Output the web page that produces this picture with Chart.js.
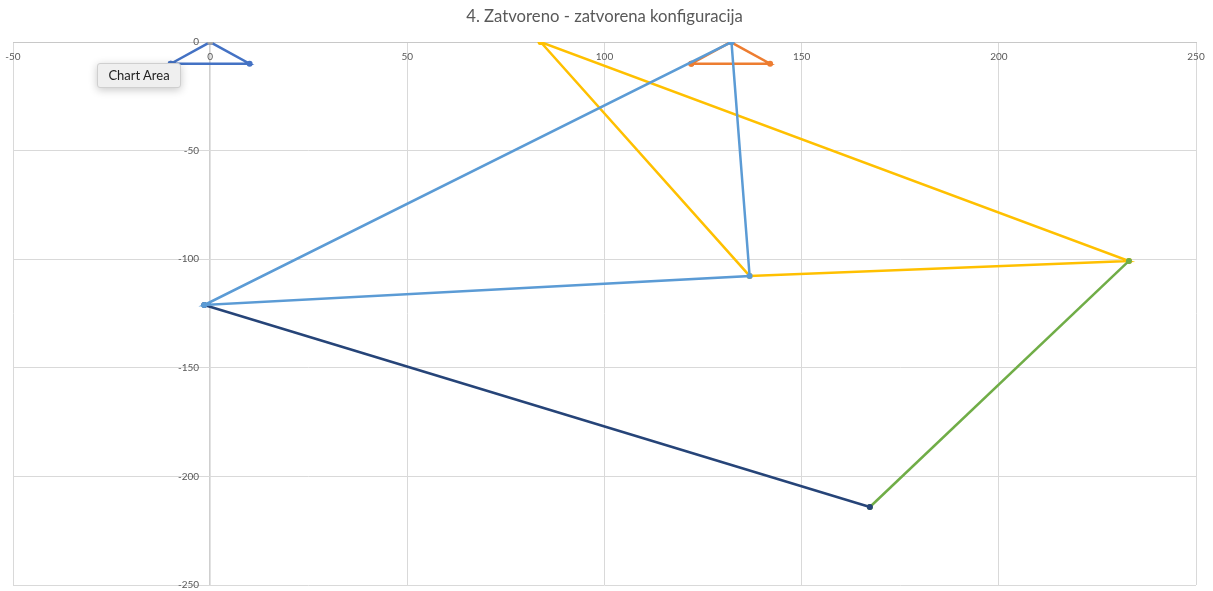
<!DOCTYPE html>
<html>
<head>
<meta charset="utf-8">
<script src="https://cdn.jsdelivr.net/npm/chart.js@4/dist/chart.umd.min.js"></script>
<style>
  html, body { margin: 0; padding: 0; background: #fff; }
  #wrap { position: relative; width: 1213px; height: 591px; }
  #tip {
    position: absolute; left: 97px; top: 63px; width: 82px; height: 23px;
    background: #efefef; border: 1px solid #cfcfcf; border-radius: 3px;
    box-shadow: 0 2px 8px rgba(0,0,0,0.22);
    font-family: "Lato", "Open Sans", sans-serif; font-size: 13px; color: #222;
    line-height: 23px; text-align: center;
  }
</style>
</head>
<body>
<div id="wrap">
  <canvas id="c" width="1213" height="591"></canvas>
  <div id="tip">Chart Area</div>
</div>
<script>
// ---- data ----
const titleText = "4. Zatvoreno - zatvorena konfiguracija";

const xTicks = [-50, 0, 50, 100, 150, 200, 250];
const yTicks = [-250, -200, -150, -100, -50, 0];

const supportAX = [-10, 0, 10, -10];
const supportAY = [-10, 0, -10, -10];

const supportBX = [122, 132, 142, 122];
const supportBY = [-10, 0, -10, -10];

const originX = [0];
const originY = [0];

const goldX = [83.8, 136.8, 233.0, 83.8];
const goldY = [0, -107.7, -100.8, 0];

const lightBlueX = [132.2, 136.8, -1.5, 132.2];
const lightBlueY = [0, -107.7, -121.1, 0];

const greenX = [233.0, 167.3];
const greenY = [-100.8, -214.1];

const navyX = [167.3, -1.5];
const navyY = [-214.1, -121.1];

const seriesColors = ["#4472C4", "#ED7D31", "#A5A5A5", "#FFC000", "#5B9BD5", "#70AD47", "#264478"];
// stacking rank (higher = drawn later, on top)
const drawRank = [0, 1, 2, 3, 6, 4, 5];

function pts(xs, ys) { return xs.map((x, i) => ({ x: x, y: ys[i] })); }

const seriesData = [
  pts(supportAX, supportAY),
  pts(supportBX, supportBY),
  pts(originX, originY),
  pts(goldX, goldY),
  pts(lightBlueX, lightBlueY),
  pts(greenX, greenY),
  pts(navyX, navyY)
];

const datasets = seriesData.map((d, i) => ({
  data: d,
  showLine: true,
  borderColor: seriesColors[i],
  backgroundColor: seriesColors[i],
  pointBackgroundColor: seriesColors[i],
  pointBorderColor: seriesColors[i],
  borderWidth: 2.5,
  pointRadius: 3,
  pointBorderWidth: 0,
  tension: 0,
  order: 10 - drawRank[i]
}));

const tickFont = { family: "Lato, 'Open Sans', sans-serif", size: 10 };

function noEdgePadding(s) {
  s.paddingLeft = 0; s.paddingRight = 0; s.paddingTop = 0; s.paddingBottom = 0;
}

new Chart(document.getElementById("c"), {
  type: "scatter",
  data: { datasets: datasets },
  options: {
    responsive: false,
    animation: false,
    layout: { padding: { left: 13, right: 17, top: 0, bottom: 6 } },
    plugins: {
      legend: { display: false },
      tooltip: { enabled: false },
      title: {
        display: true,
        text: titleText,
        color: "#595959",
        font: { family: "Lato, 'Open Sans', sans-serif", size: 16.7, weight: "normal" },
        padding: { top: 7, bottom: 15 }
      }
    },
    scales: {
      x: {
        type: "linear",
        position: { y: 0 },
        min: xTicks[0],
        max: xTicks[xTicks.length - 1],
        afterBuildTicks: (s) => { s.ticks = xTicks.map(v => ({ value: v })); },
        afterFit: noEdgePadding,
        ticks: { color: "#595959", font: tickFont, padding: 9, maxRotation: 0, autoSkip: false },
        grid: {
          drawTicks: false,
          color: (ctx) => (ctx.tick && ctx.tick.value === 0) ? "#cfcfcf" : "#d9d9d9",
          lineWidth: (ctx) => (ctx.tick && ctx.tick.value === 0) ? 1.6 : 1
        },
        border: { display: true, color: "#c8c8c8", width: 1 }
      },
      y: {
        type: "linear",
        position: { x: -2.8 },
        min: yTicks[0],
        max: yTicks[yTicks.length - 1],
        afterBuildTicks: (s) => { s.ticks = yTicks.map(v => ({ value: v })); },
        afterFit: noEdgePadding,
        ticks: { color: "#595959", font: tickFont, padding: 0, autoSkip: false },
        grid: { drawTicks: false, color: "#d9d9d9", lineWidth: 1 },
        border: { display: false }
      }
    }
  }
});
</script>
</body>
</html>
